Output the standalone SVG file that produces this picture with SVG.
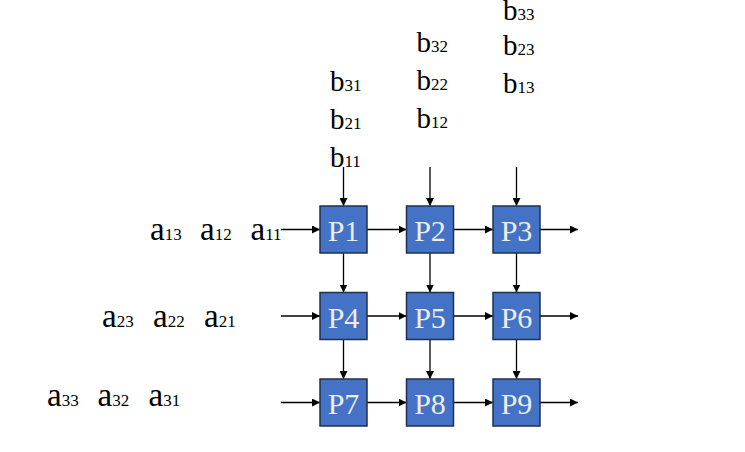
<svg xmlns="http://www.w3.org/2000/svg" width="745" height="452" viewBox="0 0 745 452">
<style>
.box{fill:#4472C4;stroke:#1F3050;stroke-width:1.5}
.pl{font-family:"Liberation Serif",serif;font-size:30px;fill:#ECECEC;text-anchor:middle}
.lab{font-family:"Liberation Serif",serif;fill:#000}
.m{font-size:29px}
.ma{font-size:33px}
.s{font-size:17px}
.c{stroke:#000;stroke-width:1.3;fill:none;marker-end:url(#ah)}
</style>
<defs>
<marker id="ah" viewBox="0 0 10 10" refX="10" refY="5" markerWidth="8" markerHeight="8" markerUnits="userSpaceOnUse" orient="auto">
<path d="M0,0 L10,5 L0,10 z" fill="#000"/>
</marker>
</defs>
<rect width="745" height="452" fill="#fff"/>
<g id="connectors">
<line class="c" x1="343.5" y1="167" x2="343.5" y2="206"/>
<line class="c" x1="430" y1="167" x2="430" y2="206"/>
<line class="c" x1="516.5" y1="167" x2="516.5" y2="206"/>
<line class="c" x1="343.5" y1="253" x2="343.5" y2="292.5"/>
<line class="c" x1="430" y1="253" x2="430" y2="292.5"/>
<line class="c" x1="516.5" y1="253" x2="516.5" y2="292.5"/>
<line class="c" x1="343.5" y1="339.5" x2="343.5" y2="379"/>
<line class="c" x1="430" y1="339.5" x2="430" y2="379"/>
<line class="c" x1="516.5" y1="339.5" x2="516.5" y2="379"/>
<line class="c" x1="281" y1="229.5" x2="320" y2="229.5"/>
<line class="c" x1="367" y1="229.5" x2="406.5" y2="229.5"/>
<line class="c" x1="453.5" y1="229.5" x2="493" y2="229.5"/>
<line class="c" x1="540" y1="229.5" x2="578" y2="229.5"/>
<line class="c" x1="281" y1="316" x2="320" y2="316"/>
<line class="c" x1="367" y1="316" x2="406.5" y2="316"/>
<line class="c" x1="453.5" y1="316" x2="493" y2="316"/>
<line class="c" x1="540" y1="316" x2="578" y2="316"/>
<line class="c" x1="281" y1="402.5" x2="320" y2="402.5"/>
<line class="c" x1="367" y1="402.5" x2="406.5" y2="402.5"/>
<line class="c" x1="453.5" y1="402.5" x2="493" y2="402.5"/>
<line class="c" x1="540" y1="402.5" x2="578" y2="402.5"/>
</g>
<g id="P1"><rect class="box" x="320" y="206" width="47" height="47"/><text class="pl" x="343.5" y="241">P1</text></g>
<g id="P2"><rect class="box" x="406.5" y="206" width="47" height="47"/><text class="pl" x="430" y="241">P2</text></g>
<g id="P3"><rect class="box" x="493" y="206" width="47" height="47"/><text class="pl" x="516.5" y="241">P3</text></g>
<g id="P4"><rect class="box" x="320" y="292.5" width="47" height="47"/><text class="pl" x="343.5" y="327.5">P4</text></g>
<g id="P5"><rect class="box" x="406.5" y="292.5" width="47" height="47"/><text class="pl" x="430" y="327.5">P5</text></g>
<g id="P6"><rect class="box" x="493" y="292.5" width="47" height="47"/><text class="pl" x="516.5" y="327.5">P6</text></g>
<g id="P7"><rect class="box" x="320" y="379" width="47" height="47"/><text class="pl" x="343.5" y="414">P7</text></g>
<g id="P8"><rect class="box" x="406.5" y="379" width="47" height="47"/><text class="pl" x="430" y="414">P8</text></g>
<g id="P9"><rect class="box" x="493" y="379" width="47" height="47"/><text class="pl" x="516.5" y="414">P9</text></g>
<g id="b-inputs" class="lab">
<text x="330" y="91"><tspan class="m">b</tspan><tspan class="s">31</tspan></text>
<text x="330" y="129"><tspan class="m">b</tspan><tspan class="s">21</tspan></text>
<text x="330" y="167"><tspan class="m">b</tspan><tspan class="s">11</tspan></text>
<text x="416.5" y="52"><tspan class="m">b</tspan><tspan class="s">32</tspan></text>
<text x="416.5" y="90"><tspan class="m">b</tspan><tspan class="s">22</tspan></text>
<text x="416.5" y="128"><tspan class="m">b</tspan><tspan class="s">12</tspan></text>
<text x="503" y="20"><tspan class="m">b</tspan><tspan class="s">33</tspan></text>
<text x="503" y="55"><tspan class="m">b</tspan><tspan class="s">23</tspan></text>
<text x="503" y="93"><tspan class="m">b</tspan><tspan class="s">13</tspan></text>
</g>
<g id="a-inputs" class="lab">
<text x="150" y="240"><tspan class="ma">a</tspan><tspan class="s">13</tspan></text>
<text x="200" y="240"><tspan class="ma">a</tspan><tspan class="s">12</tspan></text>
<text x="250.5" y="240"><tspan class="ma">a</tspan><tspan class="s">11</tspan></text>
<text x="102" y="327"><tspan class="ma">a</tspan><tspan class="s">23</tspan></text>
<text x="153" y="327"><tspan class="ma">a</tspan><tspan class="s">22</tspan></text>
<text x="204" y="327"><tspan class="ma">a</tspan><tspan class="s">21</tspan></text>
<text x="47" y="406"><tspan class="ma">a</tspan><tspan class="s">33</tspan></text>
<text x="97.5" y="406"><tspan class="ma">a</tspan><tspan class="s">32</tspan></text>
<text x="148.5" y="406"><tspan class="ma">a</tspan><tspan class="s">31</tspan></text>
</g>
</svg>
